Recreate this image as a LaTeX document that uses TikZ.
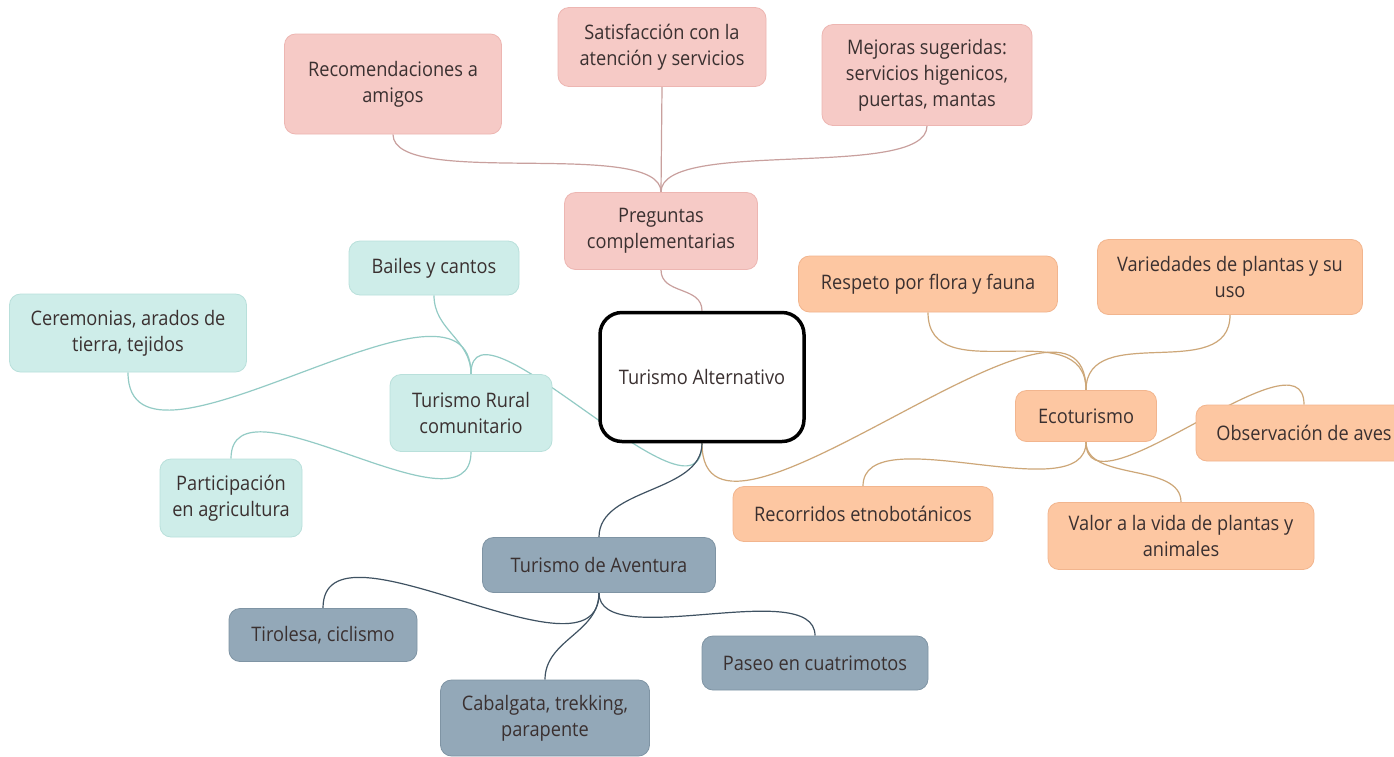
\documentclass[tikz,border=0pt]{standalone}
\usepackage{fontspec}
\setmainfont{Open Sans}[FakeStretch=0.91]
\pgfdeclarelayer{bg}
\pgfdeclarelayer{lines}
\pgfsetlayers{bg,lines,main}
\definecolor{txt}{HTML}{3A3030}
\definecolor{pinkF}{HTML}{F6CAC6}
\definecolor{pinkD}{HTML}{EDB6B2}
\definecolor{pinkL}{HTML}{C9A09E}
\definecolor{tealF}{HTML}{CEEDE9}
\definecolor{tealD}{HTML}{B9E0DB}
\definecolor{tealL}{HTML}{93CBC5}
\definecolor{oranF}{HTML}{FDC7A2}
\definecolor{oranD}{HTML}{F2B58E}
\definecolor{oranL}{HTML}{CDA778}
\definecolor{blueF}{HTML}{93A8B8}
\definecolor{blueD}{HTML}{7F94A4}
\definecolor{blueL}{HTML}{3F5262}
\tikzset{
  box/.style={rounded corners=11pt, line width=0.8pt, align=center,
    font=\fontsize{20}{26}\selectfont, text=txt, inner sep=0pt},
  sz/.style 2 args={minimum width=#1pt, minimum height=#2pt},
  pinkbox/.style={box, fill=pinkF, draw=pinkD},
  tealbox/.style={box, fill=tealF, draw=tealD},
  oranbox/.style={box, fill=oranF, draw=oranD},
  bluebox/.style={box, fill=blueF, draw=blueD},
  centerbox/.style={box, fill=white, draw=black, line width=3.5pt, rounded corners=22pt},
  conn/.style={line width=1.2pt},
  pinkc/.style={conn, draw=pinkL},
  tealc/.style={conn, draw=tealL},
  oranc/.style={conn, draw=oranL},
  bluec/.style={conn, draw=blueL},
}
\begin{document}
\begin{tikzpicture}[x=1pt, y=-1pt]
\useasboundingbox (0,0) rectangle (1394,756);
\clip (0,0) rectangle (1394,756);
\begin{pgfonlayer}{bg}
\fill[white] (0,0) rectangle (1394,756);
\end{pgfonlayer}
% central
\node[centerbox, sz={204}{129}] (central) at (702,377) {Turismo Alternativo};
% pink
\node[pinkbox, sz={217}{100}] (rec) at (393,84) {Recomendaciones a\\amigos};
\node[pinkbox, sz={208}{79}] (sat) at (662,47) {Satisfacción con la\\atención y servicios};
\node[pinkbox, sz={210}{101}] (mej) at (927,75) {Mejoras sugeridas:\\servicios higenicos,\\puertas, mantas};
\node[pinkbox, sz={193}{77}] (preg) at (661,231) {Preguntas\\complementarias};
% teal
\node[tealbox, sz={170}{54}] (bai) at (434,268) {Bailes y cantos};
\node[tealbox, sz={237}{78}] (cer) at (128,333) {Ceremonias, arados de\\tierra, tejidos};
\node[tealbox, sz={162}{77}] (rural) at (471,413) {Turismo Rural\\comunitario};
\node[tealbox, sz={142}{78}] (part) at (231,498) {Participación\\en agricultura};
% orange
\node[oranbox, sz={259}{56}] (resp) at (928,284) {Respeto por flora y fauna};
\node[oranbox, sz={265}{75}] (var) at (1230,277) {Variedades de plantas y su\\uso};
\node[oranbox, sz={141}{51}] (eco) at (1086,416) {Ecoturismo};
\node[oranbox, sz={216}{56}] (obs) at (1304,433) {Observación de aves};
\node[oranbox, sz={260}{55}] (reco) at (863,514) {Recorridos etnobotánicos};
\node[oranbox, sz={266}{67}] (valor) at (1181,536) {Valor a la vida de plantas y\\animales};
% blue
\node[bluebox, sz={233}{55}] (avent) at (599,565) {Turismo de Aventura};
\node[bluebox, sz={188}{53}] (tir) at (323,635) {Tirolesa, ciclismo};
\node[bluebox, sz={209}{76}] (cab) at (545,718) {Cabalgata, trekking,\\parapente};
\node[bluebox, sz={226}{54}] (paseo) at (815,663) {Paseo en cuatrimotos};
% connectors
\begin{pgfonlayer}{lines}
\draw[pinkc] (preg.north) -- (sat.south);
\draw[pinkc] (preg.north) .. controls +(0,-55) and +(0,55) .. (rec.south);
\draw[pinkc] (preg.north) .. controls +(0,-55) and +(0,55) .. (mej.south);
\draw[pinkc] (preg.south) .. controls +(0,25) and +(0,-25) .. (central.north);
\draw[tealc] (central.south) .. controls +(0,98) and +(0,-90) .. (rural.north);
\draw[tealc] (rural.north) .. controls +(0,-35) and +(0,35) .. (bai.south);
\draw[tealc] (rural.north) .. controls +(0,-130) and +(0,130) .. (cer.south);
\draw[tealc] (rural.south) .. controls +(0,90) and +(0,-90) .. (part.north);
\draw[oranc] (central.south) .. controls +(0,150) and +(0,-150) .. (eco.north);
\draw[oranc] (eco.north) .. controls +(0,-80) and +(0,80) .. (resp.south);
\draw[oranc] (eco.north) .. controls +(0,-70) and +(0,70) .. (var.south);
\draw[oranc] (eco.south) .. controls +(0,80) and +(0,-80) .. (obs.north);
\draw[oranc] (eco.south) .. controls +(0,70) and +(0,-70) .. (reco.north);
\draw[oranc] (eco.south) .. controls +(0,40) and +(0,-40) .. (valor.north);
\draw[bluec] (central.south) .. controls +(0,50) and +(0,-50) .. (avent.north);
\draw[bluec] (avent.south) .. controls +(0,100) and +(0,-100) .. (tir.north);
\draw[bluec] (avent.south) .. controls +(0,60) and +(0,-60) .. (paseo.north);
\draw[bluec] (avent.south) .. controls +(0,40) and +(0,-40) .. (cab.north);
\end{pgfonlayer}
\end{tikzpicture}
\end{document}
